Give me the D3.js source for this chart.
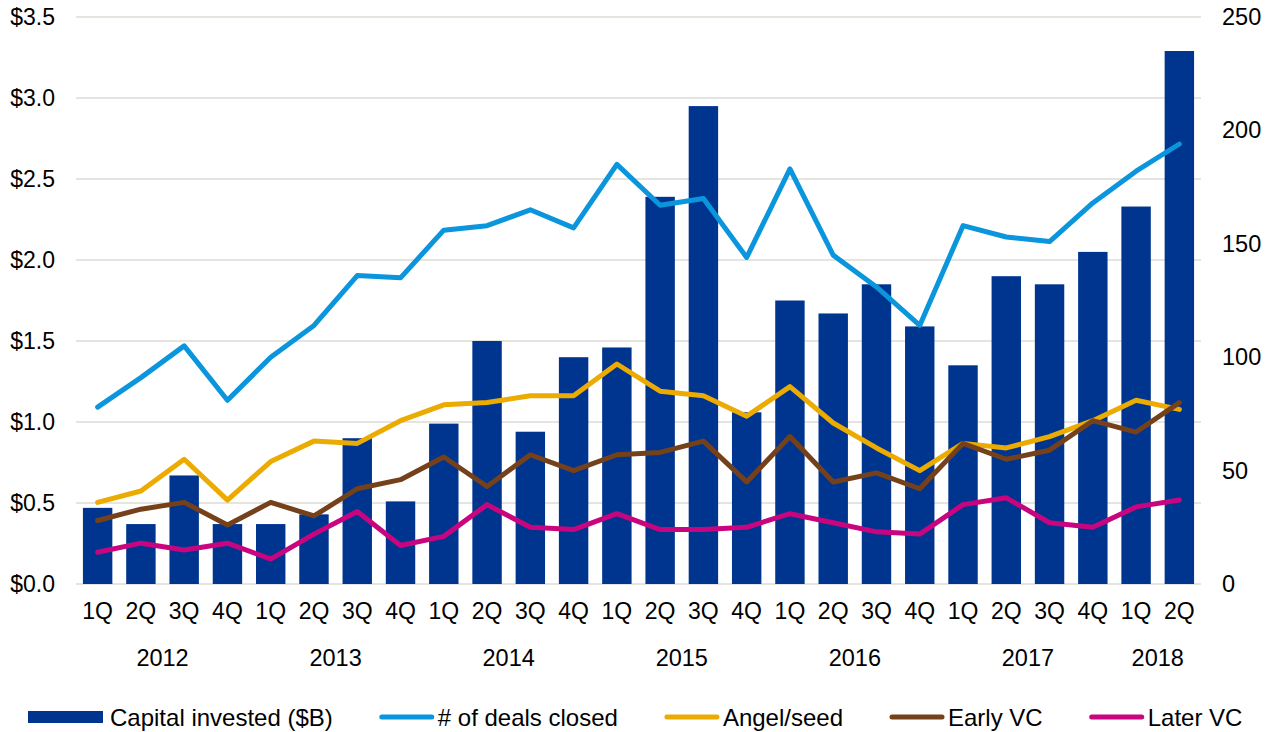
<!DOCTYPE html>
<html>
<head>
<meta charset="utf-8">
<script src="https://cdn.jsdelivr.net/npm/d3@7"></script>
<style>
  body { margin: 0; background: #fff; }
  text { font-family: "Liberation Sans", Arial, sans-serif; fill: #000; }
</style>
</head>
<body>
<div id="chart"></div>
<script>
var svgWidth = 1279;
var svgHeight = 732;

var margin = { top: 17, right: 78, bottom: 148, left: 76 };
var width = svgWidth - margin.left - margin.right;
var height = svgHeight - margin.top - margin.bottom;

// quarters 1Q 2012 .. 2Q 2018
var quarters = ["1Q","2Q","3Q","4Q","1Q","2Q","3Q","4Q","1Q","2Q","3Q","4Q","1Q","2Q","3Q","4Q",
                "1Q","2Q","3Q","4Q","1Q","2Q","3Q","4Q","1Q","2Q"];
var years = ["2012","2013","2014","2015","2016","2017","2018"];

// capital invested ($B) - bars, left axis
var capital = [0.47, 0.37, 0.67, 0.37, 0.37, 0.43, 0.90, 0.51, 0.99, 1.50, 0.94, 1.40, 1.46,
               2.39, 2.95, 1.06, 1.75, 1.67, 1.85, 1.59, 1.35, 1.90, 1.85, 2.05, 2.33, 3.29];

// deal counts - lines, right axis
var dealsClosed = [78, 91, 105, 81, 100, 114, 136, 135, 156, 158, 165, 157, 185,
                   167, 170, 144, 183, 145, 131, 114, 158, 153, 151, 168, 182, 194];
var angelSeed = [36, 41, 55, 37, 54, 63, 62, 72, 79, 80, 83, 83, 97,
                 85, 83, 74, 87, 71, 60, 50, 62, 60, 65, 72, 81, 77];
var earlyVC = [28, 33, 36, 26, 36, 30, 42, 46, 56, 43, 57, 50, 57,
               58, 63, 45, 65, 45, 49, 42, 62, 55, 59, 72, 67, 80];
var laterVC = [14, 18, 15, 18, 11, 22, 32, 17, 21, 35, 25, 24, 31,
               24, 24, 25, 31, 27, 23, 22, 35, 38, 27, 25, 34, 37];

var leftTicks = [0, 0.5, 1, 1.5, 2, 2.5, 3, 3.5];
var rightTicks = [0, 50, 100, 150, 200, 250];

var lineSeries = [
  { name: "# of deals closed", values: dealsClosed, color: "#0a95dc" },
  { name: "Angel/seed", values: angelSeed, color: "#ebab00" },
  { name: "Early VC", values: earlyVC, color: "#74411b" },
  { name: "Later VC", values: laterVC, color: "#c8057f" }
];
var barColor = "#00358f";

var svg = d3.select("#chart")
  .append("svg")
  .attr("width", svgWidth)
  .attr("height", svgHeight);

var chartGroup = svg.append("g")
  .attr("transform", `translate(${margin.left}, ${margin.top})`);

var idx = d3.range(quarters.length);

var xScale = d3.scaleBand()
  .domain(idx)
  .range([0, width])
  .paddingInner(0.32)
  .paddingOuter(0.16);

var yLeft = d3.scaleLinear().domain([0, 3.5]).range([height, 0]);
var yRight = d3.scaleLinear().domain([0, 250]).range([height, 0]);

// gridlines
chartGroup.append("g")
  .selectAll("line")
  .data(leftTicks)
  .enter()
  .append("line")
  .attr("x1", 0)
  .attr("x2", width)
  .attr("y1", d => yLeft(d))
  .attr("y2", d => yLeft(d))
  .attr("stroke", "#e6e4df")
  .attr("stroke-width", 2);

// left axis
var leftAxis = d3.axisLeft(yLeft)
  .tickValues(leftTicks)
  .tickSize(0)
  .tickPadding(21)
  .tickFormat(d => "$" + d3.format(".1f")(d));

chartGroup.append("g")
  .call(leftAxis)
  .call(g => g.select(".domain").remove())
  .selectAll("text")
  .style("font-size", "23px")
  .attr("fill", "#000");

// right axis
var rightAxis = d3.axisRight(yRight)
  .tickValues(rightTicks)
  .tickSize(0)
  .tickPadding(21);

chartGroup.append("g")
  .attr("transform", `translate(${width}, 0)`)
  .call(rightAxis)
  .call(g => g.select(".domain").remove())
  .selectAll("text")
  .style("font-size", "23.5px")
  .attr("fill", "#000");

// bars
chartGroup.selectAll(".bar")
  .data(capital)
  .enter()
  .append("rect")
  .attr("class", "bar")
  .attr("x", (d, i) => xScale(i))
  .attr("width", xScale.bandwidth())
  .attr("y", d => yLeft(d))
  .attr("height", d => height - yLeft(d))
  .attr("fill", barColor);

// lines
var line = d3.line()
  .x((d, i) => xScale(i) + xScale.bandwidth() / 2)
  .y(d => yRight(d));

lineSeries.forEach(function(s) {
  chartGroup.append("path")
    .datum(s.values)
    .attr("d", line)
    .attr("fill", "none")
    .attr("stroke", s.color)
    .attr("stroke-width", 5)
    .attr("stroke-linejoin", "round")
    .attr("stroke-linecap", "round");
});

// quarter labels
chartGroup.selectAll(".qlabel")
  .data(quarters)
  .enter()
  .append("text")
  .attr("class", "qlabel")
  .attr("x", (d, i) => xScale(i) + xScale.bandwidth() / 2)
  .attr("y", height + 35)
  .attr("text-anchor", "middle")
  .style("font-size", "23px")
  .text(d => d);

// year labels centred under their quarters
var yearGroups = years.map(function(y, k) {
  var first = k * 4;
  var last = Math.min(first + 3, quarters.length - 1);
  return { year: y, first: first, last: last };
});

chartGroup.selectAll(".ylabel")
  .data(yearGroups)
  .enter()
  .append("text")
  .attr("class", "ylabel")
  .attr("x", d => (xScale(d.first) + xScale(d.last) + xScale.bandwidth()) / 2)
  .attr("y", height + 82)
  .attr("text-anchor", "middle")
  .style("font-size", "23.5px")
  .text(d => d.year);

// legend
var legend = svg.append("g")
  .attr("transform", "translate(28, 717)");

var legendItems = [{ name: "Capital invested ($B)", color: barColor, type: "bar" }]
  .concat(lineSeries.map(s => ({ name: s.name, color: s.color, type: "line" })));

var lx = 0;
legendItems.forEach(function(item) {
  var g = legend.append("g").attr("transform", `translate(${lx}, 0)`);
  var symW;
  if (item.type === "bar") {
    symW = 75;
    g.append("rect")
      .attr("x", 0).attr("y", -6)
      .attr("width", symW).attr("height", 12)
      .attr("fill", item.color);
  } else {
    symW = 54;
    g.append("line")
      .attr("x1", 2).attr("x2", symW - 2)
      .attr("y1", 0).attr("y2", 0)
      .attr("stroke", item.color)
      .attr("stroke-width", 5)
      .attr("stroke-linecap", "round");
  }
  var t = g.append("text")
    .attr("x", symW + (item.type === "bar" ? 7 : 4))
    .attr("y", 0)
    .attr("dy", "0.36em")
    .style("font-size", "24px")
    .text(item.name);
  lx += symW + (item.type === "bar" ? 7 : 4) + t.node().getComputedTextLength() + 47;
});
</script>
</body>
</html>
